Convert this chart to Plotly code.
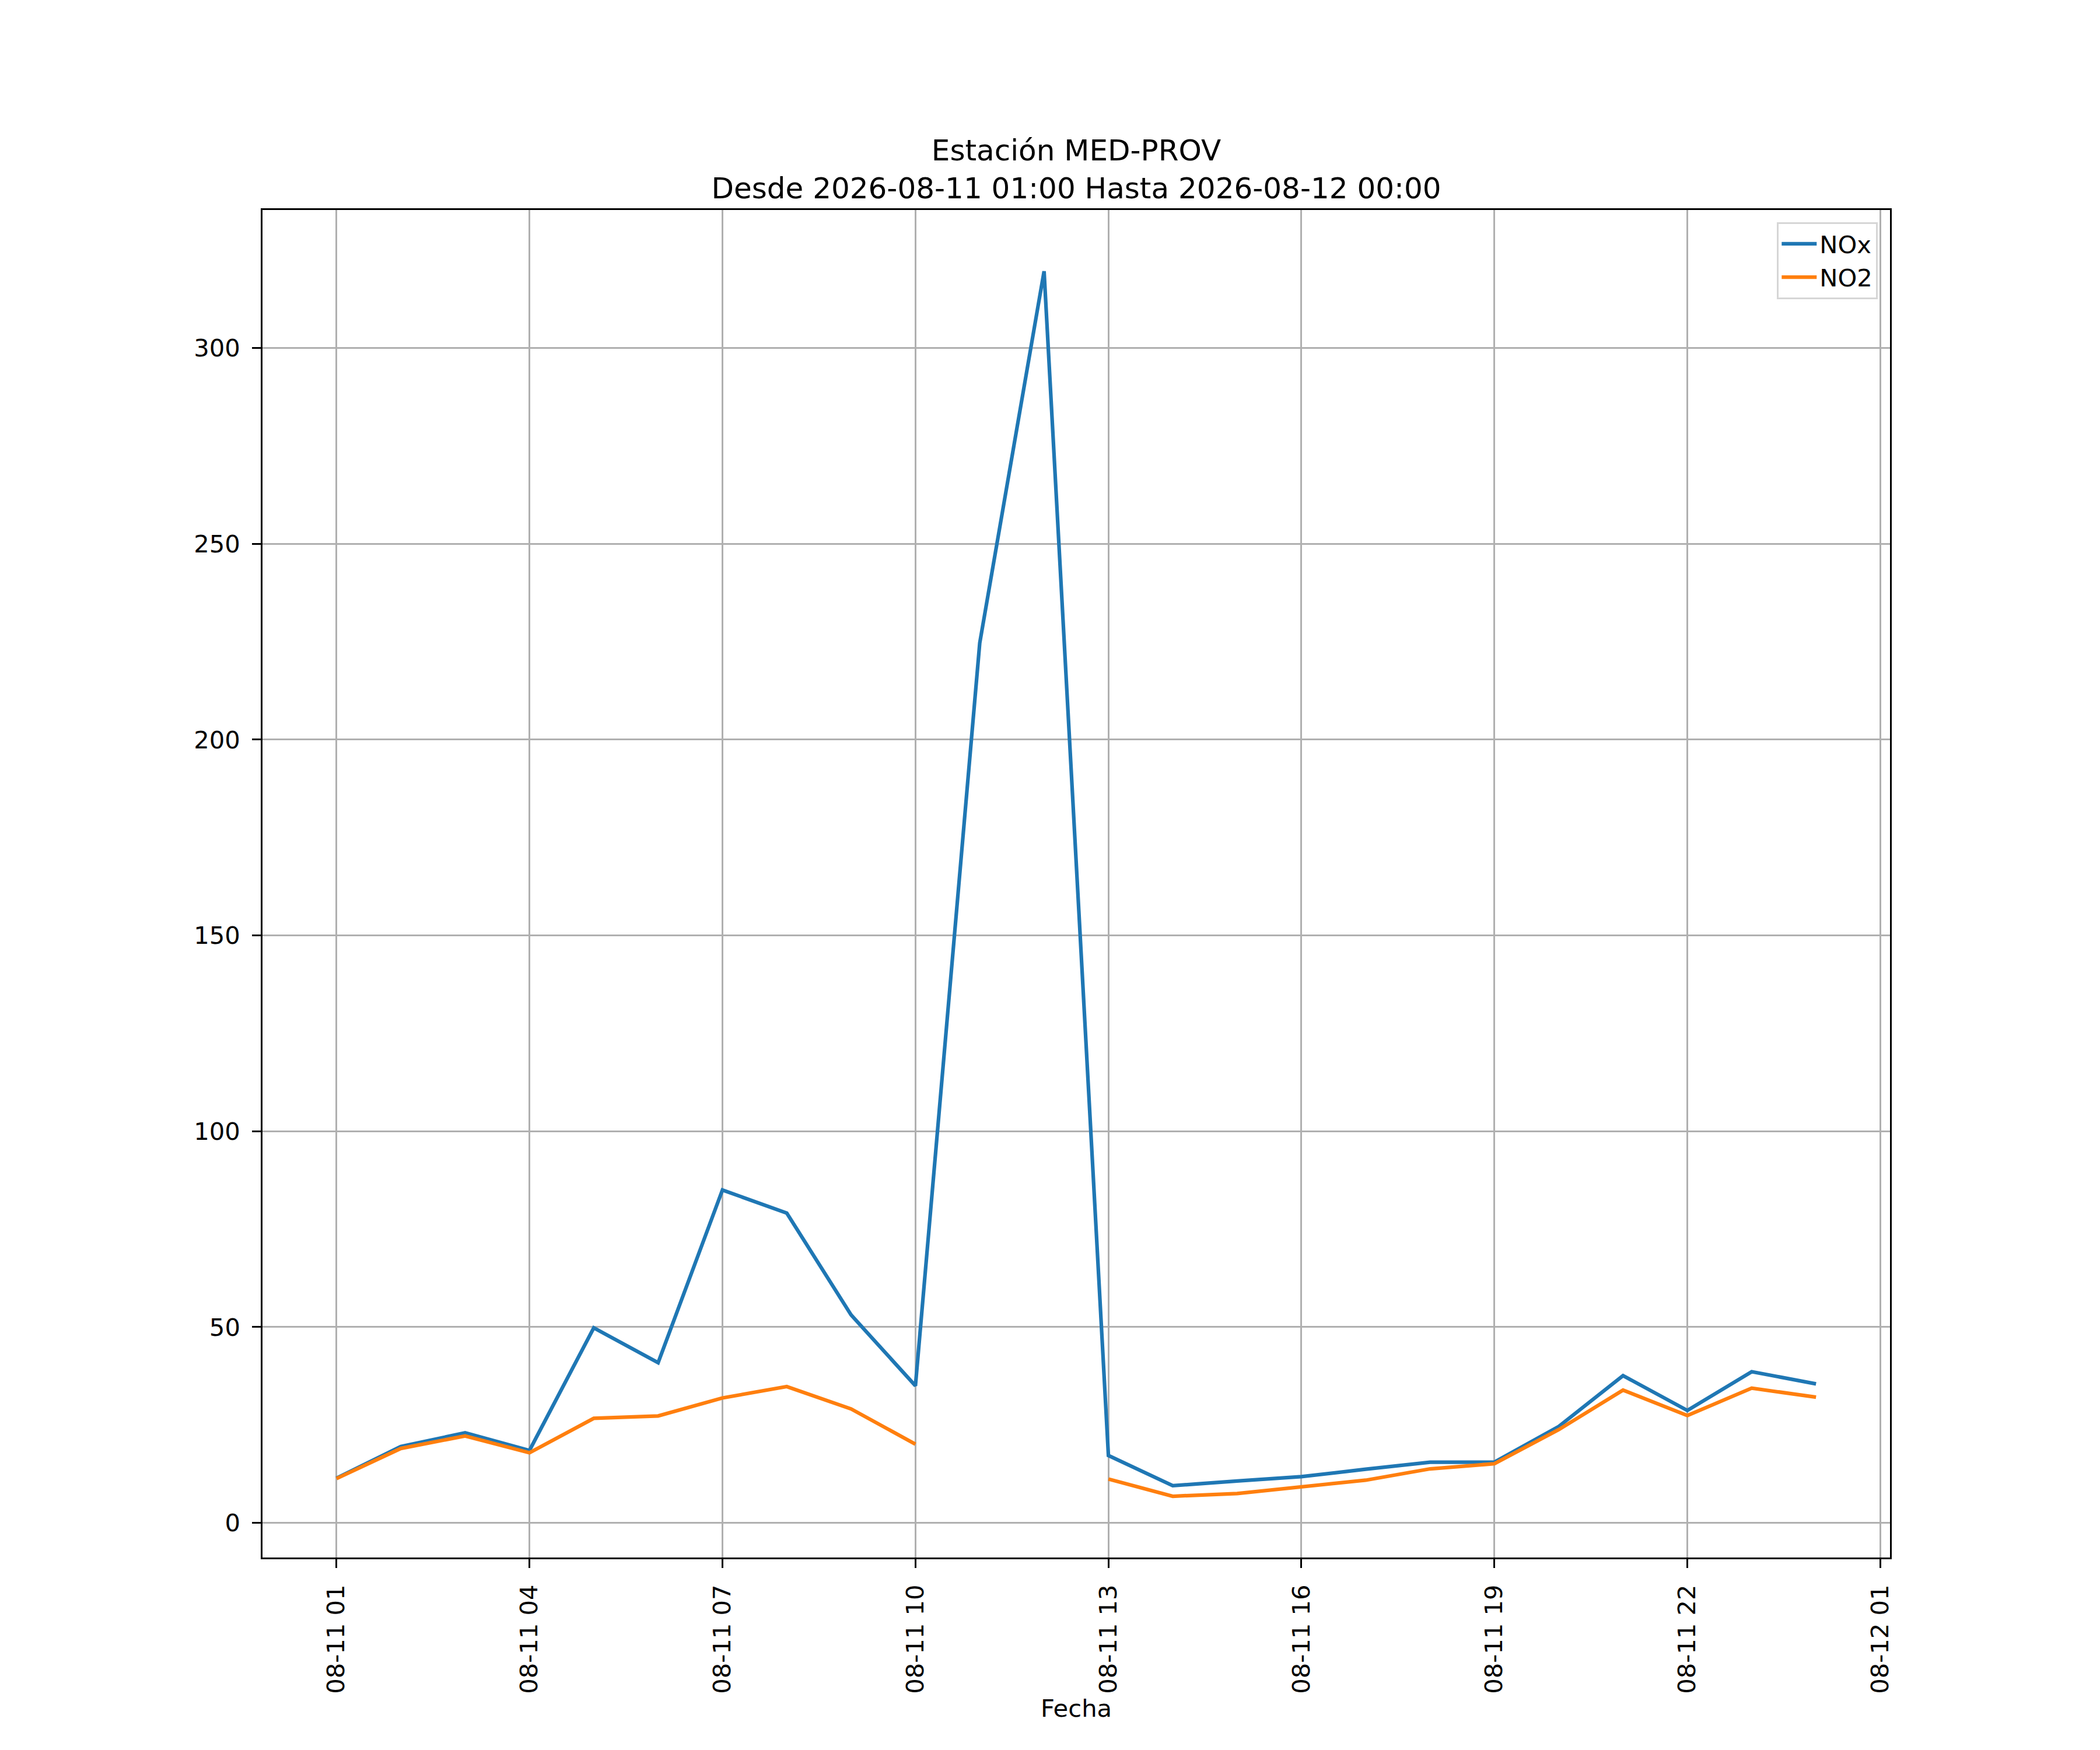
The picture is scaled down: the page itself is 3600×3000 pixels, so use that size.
import plotly.graph_objs as go
import pandas as pd

# Hourly readings, station MED-PROV, 2026-08-11 01:00 -> 2026-08-12 00:00
fechas = pd.date_range("2026-08-11 01:00", "2026-08-12 00:00", freq="h")

nox = [11.4, 19.5, 23.0, 18.5, 49.8, 40.9, 85.0, 79.1, 53.1, 35.0,
       224.7, 319.6, 17.2, 9.5, 10.7, 11.8, 13.7, 15.5, 15.5, 24.6,
       37.6, 28.7, 38.6, 35.5]
no2 = [11.3, 19.0, 22.2, 17.9, 26.7, 27.3, 31.9, 34.8, 29.1, 20.1,
       None, None, 11.2, 6.8, 7.5, 9.1, 10.9, 13.8, 15.1, 23.8,
       33.9, 27.4, 34.4, 32.1]

series = [("NOx", nox, "#1f77b4"), ("NO2", no2, "#ff7f0e")]

titulo = "Estación MED-PROV<br>Desde 2026-08-11 01:00 Hasta 2026-08-12 00:00"

fig = go.Figure()
for name, vals, color in series:
    fig.add_trace(go.Scatter(
        x=fechas, y=vals, mode="lines", name=name,
        line=dict(color=color, width=6.25),
    ))

# matplotlib-like 5% margins on both axes
pad_x = (fechas[-1] - fechas[0]) * 0.05
all_vals = [v for v in nox + no2 if v is not None]
span_y = max(all_vals) - min(all_vals)
y_range = [min(all_vals) - 0.05 * span_y, max(all_vals) + 0.05 * span_y]

font = "DejaVu Sans"
fig.update_layout(
    width=3600, height=3000,
    paper_bgcolor="white", plot_bgcolor="white",
    # page body adds ~8px on the left/top, so shift the frame a bit
    margin=dict(l=442, r=368, t=352, b=338),
    font=dict(family=font, size=41.7, color="black"),
    title=dict(text=titulo, x=0.5, xref="paper", xanchor="center",
               y=0.911, yref="container", yanchor="top",
               font=dict(family=font, size=50, color="black")),
    legend=dict(x=1 - 21 / 2790, y=1 - 21 / 2310, xanchor="right", yanchor="top",
                bgcolor="rgba(255,255,255,0.8)", bordercolor="#d6d6d6",
                borderwidth=3.3, font=dict(size=41.7), itemwidth=60),
    showlegend=True,
)
fig.update_xaxes(
    range=[fechas[0] - pad_x, fechas[-1] + pad_x],
    tick0="2026-08-11 01:00", dtick=3 * 3600 * 1000,
    tickformat="%m-%d %H", tickangle=-90,
    ticks="outside", ticklen=14.6, tickwidth=3.3, tickcolor="black",
    ticklabelstandoff=12,
    showgrid=True, gridcolor="#b0b0b0", gridwidth=3.3,
    showline=True, linecolor="black", linewidth=3.3, mirror=True,
    zeroline=False,
    title=dict(text="Fecha", font=dict(size=41.7), standoff=9),
)
fig.update_yaxes(
    range=y_range, tick0=0, dtick=50,
    ticks="outside", ticklen=14.6, tickwidth=3.3, tickcolor="black",
    ticklabelstandoff=12,
    showgrid=True, gridcolor="#b0b0b0", gridwidth=3.3,
    showline=True, linecolor="black", linewidth=3.3, mirror=True,
    zeroline=False,
)

fig.write_html("out.html")
